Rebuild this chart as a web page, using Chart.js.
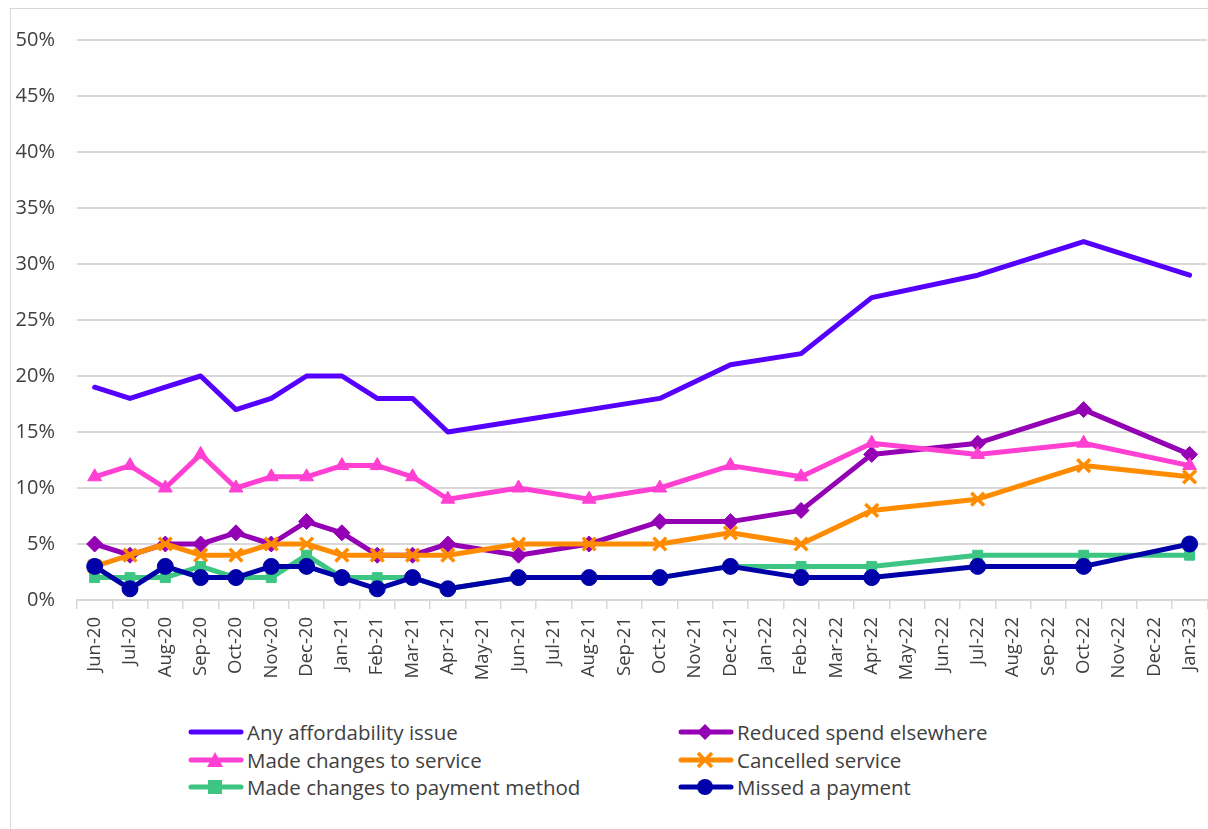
<!DOCTYPE html>
<html>
<head>
<meta charset="utf-8">
<script src="https://cdn.jsdelivr.net/npm/chart.js@4.4.1/dist/chart.umd.min.js"></script>
<style>
  html, body { margin: 0; padding: 0; background: #fff; width: 1208px; height: 829px; overflow: hidden; }
  #frame { position: absolute; left: 10px; top: 8px; width: 1220px; height: 840px; border: 1px solid #d9d9d9; box-sizing: border-box; }
  #wrap { position: absolute; left: 0; top: 0; width: 1220px; height: 700px; }
  .leg { position: absolute; font-family: "Open Sans", sans-serif; font-size: 20.5px; color: #404040; display: flex; align-items: center; white-space: nowrap; }
  .leg svg { margin-right: 3px; }
</style>
</head>
<body>
<div id="frame"></div>
<div id="wrap"><canvas id="c" width="1220" height="700"></canvas></div>
<div id="legend"></div>
<script>
const categories = ["Jun-20","Jul-20","Aug-20","Sep-20","Oct-20","Nov-20","Dec-20","Jan-21","Feb-21","Mar-21","Apr-21","May-21","Jun-21","Jul-21","Aug-21","Sep-21","Oct-21","Nov-21","Dec-21","Jan-22","Feb-22","Mar-22","Apr-22","May-22","Jun-22","Jul-22","Aug-22","Sep-22","Oct-22","Nov-22","Dec-22","Jan-23"];
const anyAffordability = [19,18,19,20,17,18,20,20,18,18,15,null,16,null,17,null,18,null,21,null,22,null,27,null,null,29,null,null,32,null,null,29];
const reducedSpend     = [5,4,5,5,6,5,7,6,4,4,5,null,4,null,5,null,7,null,7,null,8,null,13,null,null,14,null,null,17,null,null,13];
const madeChangesSvc   = [11,12,10,13,10,11,11,12,12,11,9,null,10,null,9,null,10,null,12,null,11,null,14,null,null,13,null,null,14,null,null,12];
const cancelledSvc     = [3,4,5,4,4,5,5,4,4,4,4,null,5,null,5,null,5,null,6,null,5,null,8,null,null,9,null,null,12,null,null,11];
const paymentMethod    = [2,2,2,3,2,2,4,2,2,2,1,null,2,null,2,null,2,null,3,null,3,null,3,null,null,4,null,null,4,null,null,4];
const missedPayment    = [3,1,3,2,2,3,3,2,1,2,1,null,2,null,2,null,2,null,3,null,2,null,2,null,null,3,null,null,3,null,null,5];
const yTicks = [0,5,10,15,20,25,30,35,40,45,50];

const seriesNames = ["Any affordability issue","Reduced spend elsewhere","Made changes to service","Cancelled service","Made changes to payment method","Missed a payment"];
const seriesData = [anyAffordability, reducedSpend, madeChangesSvc, cancelledSvc, paymentMethod, missedPayment];
const colors = ["#5500FF","#9400B4","#FF40D2","#FF8C00","#3CC583","#0000A8"];
const styles = [false, "rectRot", "triangle", "crossRot", "rect", "circle"];
const radii = [0, 8, 8, 9, 7, 8];

const datasets = seriesNames.map((n,i) => ({
  label: n,
  data: seriesData[i],
  borderColor: colors[i],
  backgroundColor: colors[i],
  borderWidth: 5,
  borderCapStyle: 'round',
  borderJoinStyle: 'round',
  pointStyle: styles[i] || 'circle',
  pointRadius: radii[i],
  pointHoverRadius: radii[i],
  pointBorderWidth: styles[i] === 'crossRot' ? 3.5 : 1,
  spanGaps: true,
  tension: 0,
  order: 6 - i
}));

const font = { family: "'Open Sans', sans-serif" };

new Chart(document.getElementById('c'), {
  type: 'line',
  data: { labels: categories, datasets },
  options: {
    responsive: false,
    animation: false,
    layout: { padding: { top: 40, right: 0, left: 0, bottom: 0 } },
    plugins: { legend: { display: false }, tooltip: { enabled: false } },
    scales: {
      x: {
        type: 'category',
        offset: true,
        grid: { offset: true, drawOnChartArea: false, tickLength: 9, color: '#d9d9d9', lineWidth: 1.5 },
        border: { display: true, color: '#d9d9d9', width: 2 },
        ticks: { minRotation: 90, maxRotation: 90, autoSkip: false, color: '#404040', font: { ...font, size: 18.5 }, padding: 8 },
        afterFit: s => { s.height = 100; }
      },
      y: {
        min: 0, max: 50,
        afterBuildTicks: s => { s.ticks = yTicks.map(v => ({ value: v })); },
        grid: { color: '#d9d9d9', lineWidth: 2, drawTicks: false },
        border: { display: false },
        ticks: { color: '#404040', font: { ...font, size: 20 }, padding: 22, callback: v => v + '%' },
        afterFit: s => { s.width = 77; }
      }
    }
  }
});

// HTML legend
const legPos = [[188,732],[678,732],[188,760],[678,760],[188,787],[678,787]];
const leg = document.getElementById('legend');
function markerSvg(i) {
  const c = colors[i];
  const cx = 27;
  let m = '';
  if (styles[i] === 'rectRot') m = `<polygon points="${cx},2 ${cx+8},10 ${cx},18 ${cx-8},10" fill="${c}"/>`;
  else if (styles[i] === 'triangle') m = `<polygon points="${cx},2 ${cx+8},17 ${cx-8},17" fill="${c}"/>`;
  else if (styles[i] === 'crossRot') m = `<path d="M${cx-7},3 L${cx+7},17 M${cx+7},3 L${cx-7},17" stroke="${c}" stroke-width="3.5"/>`;
  else if (styles[i] === 'rect') m = `<rect x="${cx-7}" y="3" width="14" height="14" fill="${c}"/>`;
  else if (styles[i] === 'circle') m = `<circle cx="${cx}" cy="10" r="8" fill="${c}"/>`;
  return `<svg width="56" height="20"><line x1="3" y1="10" x2="53" y2="10" stroke="${c}" stroke-width="5" stroke-linecap="round"/>${m}</svg>`;
}
seriesNames.forEach((n,i) => {
  const d = document.createElement('div');
  d.className = 'leg';
  d.style.left = legPos[i][0] + 'px';
  d.style.top = (legPos[i][1] - 14) + 'px';
  d.innerHTML = markerSvg(i) + '<span>' + n + '</span>';
  leg.appendChild(d);
});
</script>
</body>
</html>
